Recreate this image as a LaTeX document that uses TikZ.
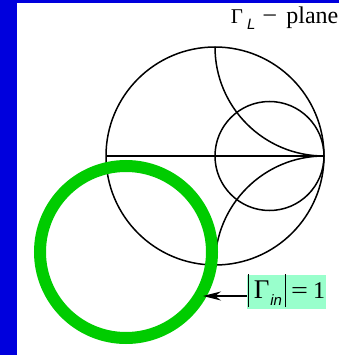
\documentclass[tikz,border=0pt]{standalone}
\usepackage{fontspec}
\setmainfont{Liberation Serif}
\newfontfamily\lsans{Liberation Sans}
\usetikzlibrary{arrows.meta}
\definecolor{bluebar}{HTML}{0000DD}
\definecolor{ringgreen}{HTML}{00CC00}
\definecolor{labelbg}{HTML}{99FFCC}
\tikzset{
  chart/.style={draw=black, line width=1.5pt},
  ring/.style={draw=ringgreen, line width=12pt},
  lbl/.style={fill=labelbg, inner xsep=0.5pt, inner ysep=0pt, text height=23pt, text depth=11pt, font=\fontsize{24}{24}\selectfont},
  ptr/.style={draw=black, line width=1.5pt, -{Stealth[length=18pt,width=9pt]}}
}
\newcommand{\subsf}[3]{\raisebox{-#2}{\fontsize{#3}{#3}\selectfont\lsans\itshape #1}}
\newcommand{\tallbar}{\raisebox{-9pt}{\rule{1.1pt}{33pt}}}
\begin{document}
\begin{tikzpicture}[x=1pt,y=-1pt]
\fill[white] (0,0) rectangle (339,355);
\useasboundingbox (0,0) rectangle (339,355);
\fill[bluebar] (0,0) rectangle (17,355);
\fill[bluebar] (0,0) rectangle (339,3);
% title
\node[anchor=base east, inner sep=0pt, font=\fontsize{24}{24}\selectfont] (title) at (338.5,23.5)
  {{\fontsize{21}{21}\selectfont Γ}\hspace{4pt}\subsf{L}{6pt}{15}\hspace{7pt}\scalebox{1.1}[1]{−}\hspace{9pt}plane};
% Smith chart
\draw[chart] (215,156) circle (109pt);
\draw[chart] (106,156) -- (324,156);
\draw[chart] (269.5,156) circle (54.5pt);
\draw[chart] (215,47) arc[start angle=180, end angle=90, radius=109];
\draw[chart] (215,265) arc[start angle=180, end angle=270, radius=109];
% green ring
\draw[ring] (126,252) circle (86pt);
% label
\node[lbl, anchor=base west] (lab) at (247,298)
  {\tallbar\hspace{5pt}{\fontsize{27}{27}\selectfont Γ}\hspace{1pt}\subsf{in}{7pt}{15}\hspace{3pt}\tallbar\hspace{5pt}\scalebox{1.25}[1]{=}\hspace{5pt}1\hspace{1pt}};
\coordinate (tip) at (203,296);
\draw[ptr] (lab.west |- tip) -- (tip);
\end{tikzpicture}
\end{document}
